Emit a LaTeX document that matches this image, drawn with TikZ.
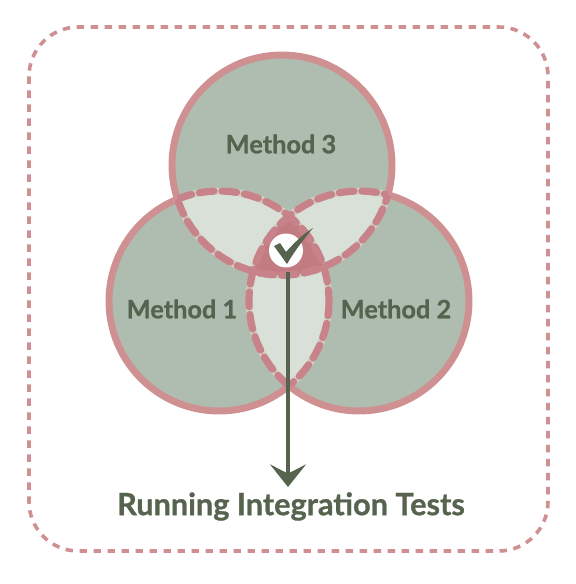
\documentclass[tikz,border=0pt]{standalone}
\usepackage{fontspec}
\setmainfont{Lato}[FakeBold=0.9]
\usetikzlibrary{arrows.meta}
\definecolor{rosea}{HTML}{CF9092}
\definecolor{rosed}{HTML}{C8838A}
\definecolor{roseb}{HTML}{C27B80}
\definecolor{sage}{HTML}{AEBDAF}
\definecolor{pale}{HTML}{D8E0D7}
\definecolor{under}{HTML}{CFCFC3}
\definecolor{ink}{HTML}{56634F}
\tikzset{
  x=0.75pt,y=-0.75pt,
  frame/.style={draw=rosea,line width=2.7pt,dash pattern=on 5.6pt off 4.9pt,rounded corners=37pt},
  disc/.style={fill=sage,draw=rosea,line width=5.2pt},
  lensfill/.style={fill=pale},
  lensunder/.style={draw=under,line width=5.2pt},
  lensdash/.style={draw=rosed,line width=5.4pt,dash pattern=on 11pt off 6pt,line cap=round},
  lbl/.style={text=ink,font=\bfseries\fontsize{19pt}{21pt}\selectfont,inner sep=0pt},
  ttl/.style={text=ink,font=\bfseries\fontsize{23pt}{26pt}\selectfont,inner sep=0pt},
  flow/.style={draw=ink,line width=2.9pt,-{Stealth[length=17pt,width=27pt,inset=7pt]}}
}
\newcommand{\cA}{(219,301) circle (110)}
\newcommand{\cB}{(359,301) circle (110)}
\newcommand{\cC}{(282,165) circle (110)}
\newcommand{\lens}[2]{\begin{scope}\clip #1;\fill[lensfill] #2;\end{scope}}
\newcommand{\arcs}[3]{\begin{scope}\clip #1;\draw[#3] #2;\end{scope}}
\begin{document}
\begin{tikzpicture}
\useasboundingbox (0,0) rectangle (575,584);
\coordinate (fa) at (29,27);
\coordinate (fb) at (548,551);
\draw[frame] (fa) rectangle (fb);
\draw[disc] \cA;
\draw[disc] \cB;
\draw[disc] \cC;
% pale overlaps
\lens{\cA}{\cB}
\lens{\cA}{\cC}
\lens{\cB}{\cC}
% overlap underlay
\arcs{\cA}{\cB}{lensunder}
\arcs{\cB}{\cA}{lensunder}
\arcs{\cA}{\cC}{lensunder}
\arcs{\cC}{\cA}{lensunder}
\arcs{\cB}{\cC}{lensunder}
\arcs{\cC}{\cB}{lensunder}
% centre
\begin{scope}
\clip \cA; \clip \cB;
\fill[roseb] \cC;
\end{scope}
% dashes over the underlay
\arcs{\cA}{\cB}{lensdash}
\arcs{\cB}{\cA}{lensdash}
\arcs{\cA}{\cC}{lensdash}
\arcs{\cC}{\cA}{lensdash}
\arcs{\cB}{\cC}{lensdash}
\arcs{\cC}{\cB}{lensdash}
\node[lbl] (m1) at (182,309) {Method 1};
\node[lbl] (m2) at (396,309) {Method 2};
\node[lbl] (m3) at (281,144) {Method 3};
\node[circle,fill=white,minimum size=25.5pt,inner sep=0pt] (chk) at (286,250.5) {};
\fill[ink] (274,246) -- (280,243) -- (286,252) .. controls (294,243) and (303,234) .. (313,228)
  .. controls (303,240) and (294,252) .. (287,264) -- cycle;
\node[ttl] (run) at (291,506.5) {Running Integration Tests};
\coordinate (top) at (288,272);
\coordinate (tip) at (288,487);
\draw[flow] (top) -- (tip);
\end{tikzpicture}
\end{document}
